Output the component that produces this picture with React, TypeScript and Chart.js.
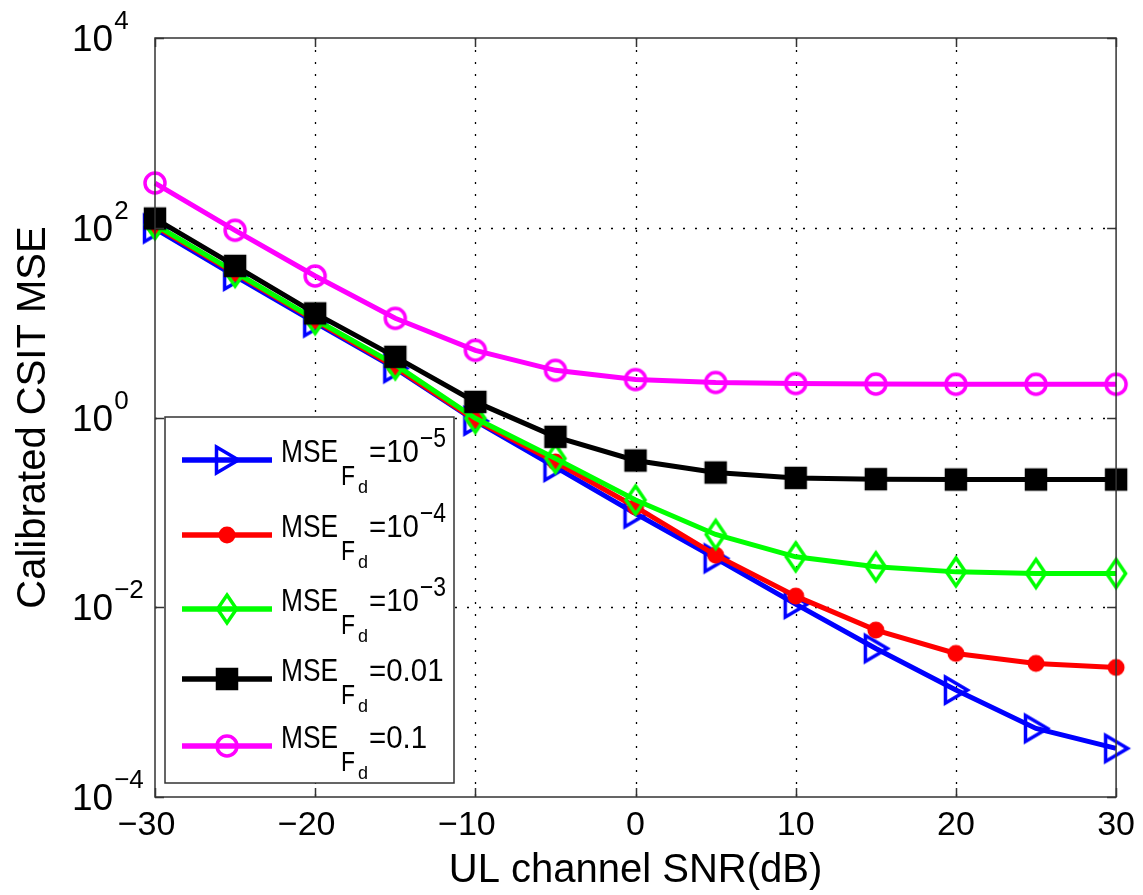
import React, { useEffect, useRef } from "react";
import { Chart, registerables } from "chart.js";

Chart.register(...registerables);

// ---------- data ----------
const snrDb = [-30, -25, -20, -15, -10, -5, 0, 5, 10, 15, 20, 25, 30];
const mseF1e5 = [98, 31, 10, 3.3, 0.92, 0.3, 0.097, 0.0327, 0.0108, 0.00368, 0.00134, 0.000528, 0.000325];
const mseF1e4 = [104, 33, 10.5, 3.4, 0.94, 0.34, 0.114, 0.0354, 0.0131, 0.00574, 0.00326, 0.00256, 0.00232];
const mseF1e3 = [108, 34, 10.8, 3.6, 0.98, 0.37, 0.135, 0.0585, 0.034, 0.0267, 0.0236, 0.0227, 0.0227];
const mseF001 = [125, 39.6, 12.5, 4.36, 1.46, 0.625, 0.352, 0.263, 0.231, 0.224, 0.222, 0.222, 0.222];
const mseF01 = [296, 94, 31, 11.1, 5.1, 3.14, 2.51, 2.34, 2.28, 2.25, 2.24, 2.24, 2.24];

const xTickValues = [-30, -20, -10, 0, 10, 20, 30];
const yTickValues = [1e-4, 1e-2, 1, 1e2, 1e4];
const yTickBase = "10";
const yTickExponents = ["\u22124", "\u22122", "0", "2", "4"];

const legendMain = "MSE";
const legendSub = "F";
const legendSubSub = "d";
const legendEq = ["=10", "=10", "=10", "=0.01", "=0.1"];
const legendSup = ["\u22125", "\u22124", "\u22123", "", ""];

const xTitle = "UL channel SNR(dB)";
const yTitle = "Calibrated CSIT MSE";

const FONT = '"Liberation Sans", Arial, Helvetica, sans-serif';

// ---------- markers ----------
function makeMarker(kind: string, color: string): HTMLCanvasElement {
  const c = document.createElement("canvas");
  c.width = 48;
  c.height = 48;
  const g = c.getContext("2d")!;
  g.translate(24, 24);
  g.lineWidth = 3.5;
  g.strokeStyle = color;
  g.fillStyle = color;
  g.lineJoin = "miter";
  g.beginPath();
  if (kind === "triangleRight") {
    g.moveTo(-10.5, -13);
    g.lineTo(11.5, 0);
    g.lineTo(-10.5, 13);
    g.closePath();
    g.stroke();
  } else if (kind === "dot") {
    g.arc(0, 0, 8.5, 0, Math.PI * 2);
    g.fill();
  } else if (kind === "diamond") {
    g.moveTo(0, -14);
    g.lineTo(9.5, 0);
    g.lineTo(0, 14);
    g.lineTo(-9.5, 0);
    g.closePath();
    g.stroke();
  } else if (kind === "square") {
    g.rect(-9.5, -9.5, 19, 19);
    g.fill();
    g.stroke();
  } else {
    g.arc(0, 0, 10, 0, Math.PI * 2);
    g.stroke();
  }
  return c;
}

function drawText(ctx: CanvasRenderingContext2D, text: string, x: number, y: number, size: number, sx: number) {
  ctx.save();
  ctx.translate(x, y);
  ctx.scale(sx, 1);
  ctx.font = `${size}px ${FONT}`;
  ctx.textAlign = "left";
  ctx.textBaseline = "alphabetic";
  ctx.fillStyle = "#000";
  ctx.fillText(text, 0, 0);
  const w = ctx.measureText(text).width * sx;
  ctx.restore();
  return w;
}

const decorPlugin = {
  id: "decor",
  beforeDatasetsDraw(chart: any) {
    const { ctx, chartArea: a, scales } = chart;
    const x = scales.x;
    const y = scales.y;
    ctx.save();
    ctx.strokeStyle = "#000";
    ctx.lineWidth = 1.3;
    ctx.setLineDash([2, 10]);
    xTickValues.slice(1, -1).forEach((v) => {
      const px = Math.round(x.getPixelForValue(v)) + 0.5;
      ctx.beginPath();
      ctx.moveTo(px, a.top);
      ctx.lineTo(px, a.bottom);
      ctx.stroke();
    });
    yTickValues.slice(1, -1).forEach((v) => {
      const py = Math.round(y.getPixelForValue(v)) + 0.5;
      ctx.beginPath();
      ctx.moveTo(a.left, py);
      ctx.lineTo(a.right, py);
      ctx.stroke();
    });
    ctx.restore();
  },
  afterDatasetsDraw(chart: any) {
    const { ctx, chartArea: a, scales } = chart;
    const x = scales.x;
    const y = scales.y;
    const lg = chart.options.plugins.decor;

    // legend box
    ctx.save();
    ctx.fillStyle = "#fff";
    ctx.fillRect(lg.left, lg.top, lg.right - lg.left, lg.bottom - lg.top);
    ctx.strokeStyle = "#333";
    ctx.lineWidth = 1.5;
    ctx.strokeRect(lg.left, lg.top, lg.right - lg.left, lg.bottom - lg.top);
    chart.data.datasets.forEach((ds: any, i: number) => {
      const yc = lg.rows[i];
      ctx.strokeStyle = ds.borderColor;
      ctx.lineWidth = 5.5;
      ctx.beginPath();
      ctx.moveTo(lg.lineX0, yc);
      ctx.lineTo(lg.lineX1, yc);
      ctx.stroke();
      const m = ds.pointStyle as HTMLCanvasElement;
      const mx = (lg.lineX0 + lg.lineX1) / 2;
      ctx.drawImage(m, mx - m.width / 2, yc - m.height / 2);
      const tx = lg.textX;
      drawText(ctx, legendMain, tx, yc + 2, 31, 0.85);
      drawText(ctx, legendSub, tx + 60, yc + 25, 27, 0.85);
      drawText(ctx, legendSubSub, tx + 77, yc + 33, 18, 1);
      const w = drawText(ctx, legendEq[i], tx + 88, yc + 2, 31, 0.95);
      if (legendSup[i]) drawText(ctx, legendSup[i], tx + 88 + w + 1, yc - 13, 27, 0.85);
    });
    ctx.restore();

    // frame + inward ticks
    ctx.save();
    ctx.strokeStyle = "#333";
    ctx.lineWidth = 1.5;
    ctx.strokeRect(a.left, a.top, a.right - a.left, a.bottom - a.top);
    const tl = 9;
    ctx.beginPath();
    xTickValues.forEach((v) => {
      const px = Math.round(x.getPixelForValue(v)) + 0.5;
      ctx.moveTo(px, a.bottom);
      ctx.lineTo(px, a.bottom - tl);
      ctx.moveTo(px, a.top);
      ctx.lineTo(px, a.top + tl);
    });
    yTickValues.forEach((v) => {
      const py = Math.round(y.getPixelForValue(v)) + 0.5;
      ctx.moveTo(a.left, py);
      ctx.lineTo(a.left + tl, py);
      ctx.moveTo(a.right, py);
      ctx.lineTo(a.right - tl, py);
    });
    ctx.stroke();
    ctx.restore();

    // y tick labels 10^k
    ctx.save();
    yTickValues.forEach((v, i) => {
      const py = y.getPixelForValue(v);
      const w = drawText(ctx, yTickBase, 72, py + 13, 37, 1);
      drawText(ctx, yTickExponents[i], 72 + w + 1, py - 9, 26, 1);
    });
    ctx.restore();
  },
};

export default function App() {
  const ref = useRef<HTMLCanvasElement | null>(null);

  useEffect(() => {
    if (!ref.current) return;
    const mk = (vals: number[]) => snrDb.map((s, i) => ({ x: s, y: vals[i] }));
    const base = { borderWidth: 5, pointRadius: 10, pointHoverRadius: 10, clip: false as any, tension: 0, fill: false };
    const chart = new Chart(ref.current, {
      type: "line",
      data: {
        datasets: [
          { ...base, label: "1e-5", data: mk(mseF1e5), borderColor: "#0000ff", pointStyle: makeMarker("triangleRight", "#0000ff") as any, order: 5 },
          { ...base, label: "1e-4", data: mk(mseF1e4), borderColor: "#ff0000", pointStyle: makeMarker("dot", "#ff0000") as any, order: 4 },
          { ...base, label: "1e-3", data: mk(mseF1e3), borderColor: "#00ff00", pointStyle: makeMarker("diamond", "#00ff00") as any, order: 3 },
          { ...base, label: "0.01", data: mk(mseF001), borderColor: "#000000", pointStyle: makeMarker("square", "#000000") as any, order: 2 },
          { ...base, label: "0.1", data: mk(mseF01), borderColor: "#ff00ff", pointStyle: makeMarker("circle", "#ff00ff") as any, order: 1 },
        ],
      },
      options: {
        responsive: false,
        animation: false,
        events: [],
        layout: { padding: { top: 38, right: 26, left: 0, bottom: 0 } },
        plugins: {
          legend: { display: false },
          tooltip: { enabled: false },
          decor: {
            left: 165,
            top: 417,
            right: 454,
            bottom: 783,
            lineX0: 182,
            lineX1: 272,
            textX: 281,
            rows: [460, 535, 609, 679, 746],
          },
        } as any,
        scales: {
          x: {
            type: "linear",
            min: -30,
            max: 30,
            grid: { display: false, drawTicks: false },
            border: { display: false },
            afterBuildTicks: (s: any) => {
              s.ticks = xTickValues.map((v) => ({ value: v }));
            },
            afterFit: (s: any) => {
              s.height = 98;
            },
            ticks: {
              padding: 8,
              maxRotation: 0,
              autoSkip: false,
              color: "#000",
              font: { family: FONT, size: 34 },
              callback: (v: any) => (v < 0 ? "\u2212" + Math.abs(v) + "\u2002" : String(v)),
            },
            title: {
              display: true,
              text: xTitle,
              color: "#000",
              font: { family: FONT, size: 40 },
              padding: { top: 0, bottom: 0 },
            },
          },
          y: {
            type: "logarithmic",
            min: 1e-4,
            max: 1e4,
            grid: { display: false, drawTicks: false },
            border: { display: false },
            afterBuildTicks: (s: any) => {
              s.ticks = yTickValues.map((v) => ({ value: v }));
            },
            afterFit: (s: any) => {
              s.width = 155;
            },
            ticks: { display: false },
            title: {
              display: true,
              text: yTitle,
              color: "#000",
              font: { family: FONT, size: 40 },
              padding: { top: 10, bottom: 0 },
            },
          },
        },
      },
      plugins: [decorPlugin as any],
    });
    return () => chart.destroy();
  }, []);

  return (
    <div style={{ position: "absolute", left: 0, top: 0, width: 1143, height: 895, background: "#fff" }}>
      <canvas ref={ref} width={1143} height={895} style={{ display: "block" }} />
    </div>
  );
}
